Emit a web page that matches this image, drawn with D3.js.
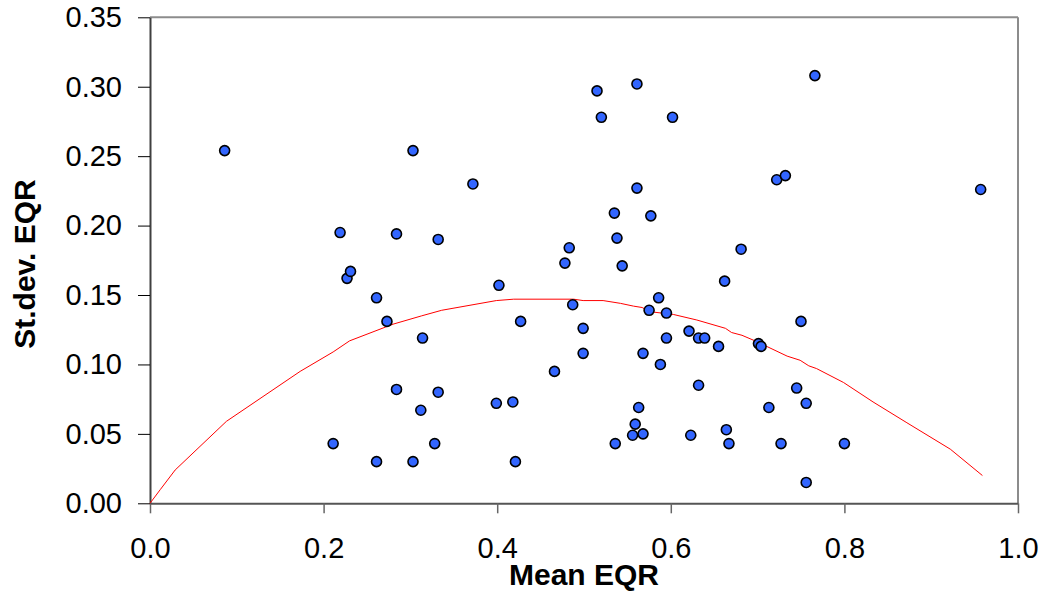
<!DOCTYPE html>
<html>
<head>
<meta charset="utf-8">
<script src="https://cdn.jsdelivr.net/npm/d3@7"></script>
<style>
  html, body { margin: 0; padding: 0; background: #fff; }
  svg { display: block; }
  text { font-family: "Liberation Sans", Arial, sans-serif; }
</style>
</head>
<body>
<svg id="chart" width="1049" height="593"></svg>
<script>
// Mean EQR per site
const meanEQR = [
  0.086, 0.303, 0.219, 0.284, 0.332, 0.515, 0.561, 0.520, 0.602, 0.372,
  0.561, 0.535, 0.577, 0.538, 0.483, 0.478, 0.544, 0.402, 0.662, 0.586,
  0.487, 0.766, 0.722, 0.732, 0.957, 0.681, 0.227, 0.231, 0.261, 0.273,
  0.314, 0.284, 0.332, 0.312, 0.211, 0.328, 0.261, 0.303, 0.575, 0.595,
  0.427, 0.499, 0.621, 0.632, 0.639, 0.595, 0.655, 0.499, 0.568, 0.588,
  0.466, 0.632, 0.399, 0.418, 0.563, 0.559, 0.556, 0.568, 0.623, 0.664,
  0.667, 0.536, 0.421, 0.750, 0.701, 0.704, 0.745, 0.756, 0.713, 0.727,
  0.800, 0.756
];
// Standard deviation of EQR per site
const sdEQR = [
  0.254, 0.254, 0.195, 0.194, 0.190, 0.297, 0.302, 0.278, 0.278, 0.230,
  0.227, 0.209, 0.207, 0.191, 0.184, 0.173, 0.171, 0.157, 0.160, 0.148,
  0.143, 0.308, 0.233, 0.236, 0.226, 0.183, 0.162, 0.167, 0.148, 0.131,
  0.119, 0.082, 0.080, 0.067, 0.043, 0.043, 0.030, 0.030, 0.139, 0.137,
  0.131, 0.126, 0.124, 0.119, 0.119, 0.119, 0.113, 0.108, 0.108, 0.100,
  0.095, 0.085, 0.072, 0.073, 0.069, 0.057, 0.049, 0.050, 0.049, 0.053,
  0.043, 0.043, 0.030, 0.131, 0.115, 0.113, 0.083, 0.072, 0.069, 0.043,
  0.043, 0.015
];
// Upper envelope curve (red line)
const curveX = [
  0.000, 0.012, 0.029, 0.088, 0.173, 0.211, 0.230, 0.280, 0.313, 0.336,
  0.399, 0.419, 0.488, 0.499, 0.522, 0.542, 0.557, 0.567, 0.576, 0.603,
  0.630, 0.663, 0.670, 0.682, 0.697, 0.734, 0.749, 0.759, 0.768, 0.799,
  0.833, 0.872, 0.922, 0.959
];
const curveY = [
  0.000, 0.010, 0.024, 0.059, 0.095, 0.109, 0.117, 0.129, 0.135, 0.139,
  0.146, 0.147, 0.147, 0.146, 0.146, 0.144, 0.142, 0.141, 0.138, 0.136,
  0.132, 0.126, 0.123, 0.121, 0.117, 0.106, 0.103, 0.099, 0.097, 0.087,
  0.073, 0.058, 0.039, 0.020
];
const xTicks = [0, 0.2, 0.4, 0.6, 0.8, 1.0];
const yTicks = [0, 0.05, 0.10, 0.15, 0.20, 0.25, 0.30, 0.35];

const svg = d3.select("#chart");
const plotLeft = 150, plotRight = 1018, plotTop = 17.3, plotBottom = 503.3;

const x = d3.scaleLinear().domain([0, 1]).range([plotLeft, plotRight]);
const y = d3.scaleLinear().domain([0, 0.35]).range([plotBottom, plotTop]);

// plot frame: grey top and right edges
svg.append("line").attr("x1", plotLeft).attr("x2", plotRight).attr("y1", plotTop).attr("y2", plotTop)
  .attr("stroke", "#8c8c8c").attr("stroke-width", 2);
svg.append("line").attr("x1", plotRight).attr("x2", plotRight).attr("y1", plotTop).attr("y2", plotBottom)
  .attr("stroke", "#8c8c8c").attr("stroke-width", 2);

// x axis
const gx = svg.append("g").attr("transform", `translate(0,${plotBottom})`)
  .call(d3.axisBottom(x).tickValues(xTicks).tickSize(10).tickSizeOuter(0)
    .tickPadding(24).tickFormat(d3.format(".1f")));
gx.select(".domain").attr("stroke", "#555").attr("stroke-width", 2);
gx.selectAll(".tick line").attr("stroke", "#666").attr("stroke-width", 1.5);
gx.selectAll(".tick text").attr("font-size", 29).attr("fill", "#000")
  .attr("font-family", "'Liberation Sans', Arial, sans-serif");

// y axis
const gy = svg.append("g").attr("transform", `translate(${plotLeft},0)`)
  .call(d3.axisLeft(y).tickValues(yTicks).tickSize(12).tickSizeOuter(0)
    .tickPadding(16).tickFormat(d3.format(".2f")));
gy.select(".domain").attr("stroke", "#404040").attr("stroke-width", 2);
gy.selectAll(".tick line").attr("stroke", "#000").attr("stroke-width", 1);
gy.selectAll(".tick text").attr("font-size", 29).attr("fill", "#000")
  .attr("font-family", "'Liberation Sans', Arial, sans-serif");

// axis titles
svg.append("text").attr("x", (plotLeft + plotRight) / 2).attr("y", 585)
  .attr("text-anchor", "middle").attr("font-size", 30).attr("font-weight", "bold")
  .text("Mean EQR");
svg.append("text").attr("transform", "translate(35,264) rotate(-90)")
  .attr("text-anchor", "middle").attr("font-size", 30).attr("font-weight", "bold")
  .text("St.dev. EQR");

// envelope curve
const curveData = curveX.map((v, i) => [v, curveY[i]]);
svg.append("path").datum(curveData)
  .attr("fill", "none").attr("stroke", "#ff0000").attr("stroke-width", 1)
  .attr("d", d3.line().x(d => x(d[0])).y(d => y(d[1])));

// site points
const pts = meanEQR.map((v, i) => ({ m: v, s: sdEQR[i] }));
svg.append("g").selectAll("circle").data(pts).join("circle")
  .attr("cx", d => x(d.m)).attr("cy", d => y(d.s)).attr("r", 5)
  .attr("fill", "#3366ff").attr("stroke", "#000").attr("stroke-width", 1.6);
</script>
</body>
</html>
